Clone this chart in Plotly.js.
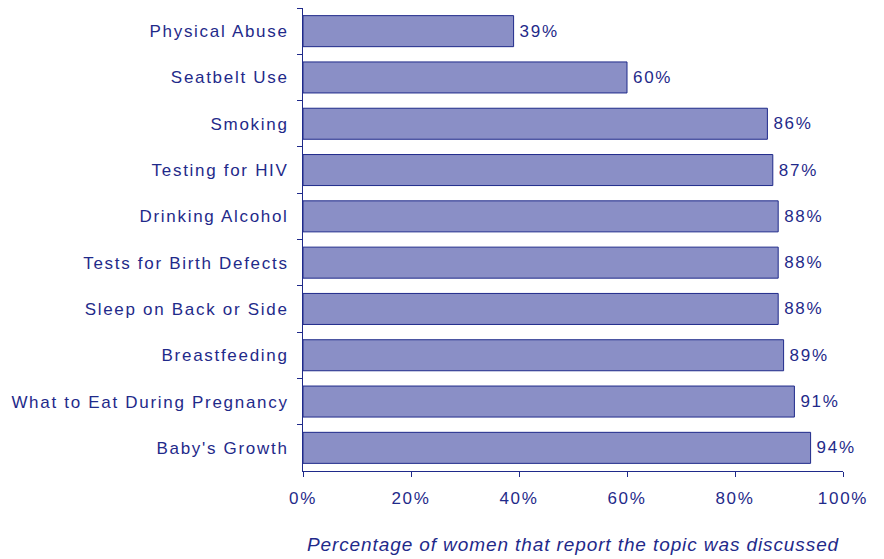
<!DOCTYPE html>
<html>
<head>
<meta charset="utf-8">
<script src="https://cdn.plot.ly/plotly-3.0.1.min.js"></script>
<style>
html,body{margin:0;padding:0;background:#fff;}
#chart .ytick text, #chart .xtick text, #chart .bartext { letter-spacing:1.7px; }
#chart .g-xtitle text { letter-spacing:0.9px; }
</style>
</head>
<body>
<div id="chart" style="width:884px;height:559px;"></div>
<script>
const topics = ["Physical Abuse","Seatbelt Use","Smoking","Testing for HIV","Drinking Alcohol","Tests for Birth Defects","Sleep on Back or Side","Breastfeeding","What to Eat During Pregnancy","Baby's Growth"];
const percents = [39, 60, 86, 87, 88, 88, 88, 89, 91, 94];
const xTickVals = [0, 20, 40, 60, 80, 100];
const xTickText = ["0%","20%","40%","60%","80%","100%"];

const navy = "#1f2a8a";
const trace = {
  type: "bar",
  orientation: "h",
  y: topics,
  x: percents,
  text: percents.map(v => "\u00a0" + v + "%"),
  textposition: "outside",
  cliponaxis: false,
  textfont: {family: "Liberation Sans, Arial, sans-serif", size: 17, color: navy},
  marker: {color: "#8a8fc6", line: {color: navy, width: 1}},
  hoverinfo: "none"
};
const layout = {
  width: 884, height: 559,
  margin: {l: 303, r: 41, t: 8, b: 88},
  paper_bgcolor: "#fff", plot_bgcolor: "#fff",
  bargap: 0.33,
  showlegend: false,
  font: {family: "Liberation Sans, Arial, sans-serif", size: 17, color: navy},
  xaxis: {
    range: [0, 100], tickvals: xTickVals, ticktext: xTickText,
    showgrid: false, zeroline: false, showline: true, linecolor: navy, linewidth: 1,
    ticks: "outside", ticklen: 5, tickcolor: navy, tickwidth: 1,
    ticklabelstandoff: 7,
    tickfont: {size: 17, color: navy},
    title: {text: "Percentage of women that report the topic was discussed", font: {size: 19, color: navy, style: "italic"}, standoff: 30}
  },
  yaxis: {
    autorange: "reversed",
    showgrid: false, zeroline: false, showline: true, linecolor: navy, linewidth: 1,
    ticks: "outside", ticklen: 5, tickcolor: navy, tickwidth: 1, tickson: "boundaries",
    ticklabelstandoff: 10,
    tickfont: {size: 17, color: navy}
  }
};
Plotly.newPlot("chart", [trace], layout, {displayModeBar: false, staticPlot: true});
</script>
</body>
</html>
